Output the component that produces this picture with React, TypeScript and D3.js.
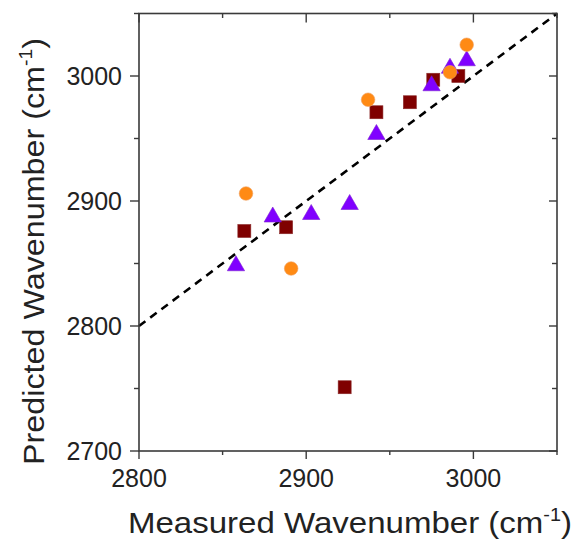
import React from "react";
import * as d3 from "d3";

const squareX = [2863, 2888, 2942, 2923, 2962, 2976, 2991];
const squareY = [2876, 2879, 2971, 2751, 2979, 2997, 3000];
const triangleX = [2858, 2880, 2903, 2926, 2942, 2975, 2986, 2996];
const triangleY = [2849, 2888, 2890, 2898, 2954, 2993, 3007, 3013];
const circleX = [2864, 2891, 2937, 2986, 2996];
const circleY = [2906, 2846, 2981, 3003, 3025];
const majorTicks = [2800, 2900, 3000];
const yMajorTicks = [2700, 2800, 2900, 3000];
const xMinorTicks = [2850, 2950, 3050];
const yMinorTicks = [2750, 2850, 2950, 3050];
const xTitle = "Measured Wavenumber (cm";
const yTitle = "Predicted Wavenumber (cm";

export default function App() {
  const W = 574, H = 548;
  const L = 139, R = 557, T = 13.5, B = 451;
  const x = d3.scaleLinear().domain([2800, 3050]).range([L, R]);
  const y = d3.scaleLinear().domain([2700, 3050]).range([B, T]);
  const font = "'Liberation Sans', Arial, sans-serif";
  const axisColor = "#3a3a3a";
  const line = d3.line<number>().x((d) => x(d)).y((d) => y(d));
  const tri = d3.symbol().type(d3.symbolTriangle).size(130)() as string;
  return (
    <svg width={W} height={H} style={{ position: "absolute", left: 0, top: 0 }}>
      <rect width={W} height={H} fill="#fff" />
      <path d={line([2800, 3050]) as string} stroke="#000" strokeWidth={2.6} strokeDasharray="8,6" fill="none" />
      {squareX.map((v, i) => (
        <rect key={"s" + i} x={x(v) - 6.5} y={y(squareY[i]) - 6.5} width={13} height={13}
          fill="#7f0000" stroke="#8a2a2a" strokeWidth={0.6} />
      ))}
      {triangleX.map((v, i) => (
        <path key={"t" + i} d={tri} transform={`translate(${x(v)},${y(triangleY[i]) + 1})`}
          fill="#8000ff" stroke="#7a20d0" strokeWidth={0.6} />
      ))}
      {circleX.map((v, i) => (
        <circle key={"c" + i} cx={x(v)} cy={y(circleY[i])} r={6.8} fill="#ff8a14" stroke="#f0a060" strokeWidth={0.6} />
      ))}
      <rect x={L} y={T} width={R - L} height={B - T} fill="none" stroke={axisColor} strokeWidth={1.6} />
      {majorTicks.map((v) => (
        <g key={"bx" + v}>
          <line x1={x(v)} x2={x(v)} y1={B} y2={B + 8} stroke={axisColor} strokeWidth={1.4} />
          <line x1={x(v)} x2={x(v)} y1={T} y2={T + 9} stroke={axisColor} strokeWidth={1.4} />
          <text x={x(v)} y={487} textAnchor="middle" fontFamily={font} fontSize={25} fill="#222">{v}</text>
        </g>
      ))}
      {xMinorTicks.map((v) => (
        <g key={"mx" + v}>
          <line x1={x(v)} x2={x(v)} y1={B} y2={B + 4} stroke={axisColor} strokeWidth={1.4} />
          <line x1={x(v)} x2={x(v)} y1={T} y2={T + 4.5} stroke={axisColor} strokeWidth={1.4} />
        </g>
      ))}
      {yMajorTicks.map((v) => (
        <g key={"by" + v}>
          <line x1={L} x2={L - 9} y1={y(v)} y2={y(v)} stroke={axisColor} strokeWidth={1.4} />
          <line x1={R} x2={R - 8} y1={y(v)} y2={y(v)} stroke={axisColor} strokeWidth={1.4} />
          <text x={122} y={y(v)} dy="0.36em" textAnchor="end" fontFamily={font} fontSize={25} fill="#222">{v}</text>
        </g>
      ))}
      {yMinorTicks.map((v) => (
        <g key={"my" + v}>
          <line x1={L} x2={L - 5} y1={y(v)} y2={y(v)} stroke={axisColor} strokeWidth={1.4} />
          <line x1={R} x2={R - 5} y1={y(v)} y2={y(v)} stroke={axisColor} strokeWidth={1.4} />
        </g>
      ))}
      <text x={128} y={533} fontFamily={font} fontSize={30} fill="#222"
        textLength={444} lengthAdjust="spacingAndGlyphs">
        {xTitle}
        <tspan dy={-12} fontSize={18}>-1</tspan>
        <tspan dy={12}>)</tspan>
      </text>
      <text transform="translate(44,465) rotate(-90)" fontFamily={font} fontSize={30} fill="#222"
        textLength={427} lengthAdjust="spacingAndGlyphs">
        {yTitle}
        <tspan dy={-12} fontSize={18}>-1</tspan>
        <tspan dy={12}>)</tspan>
      </text>
    </svg>
  );
}
